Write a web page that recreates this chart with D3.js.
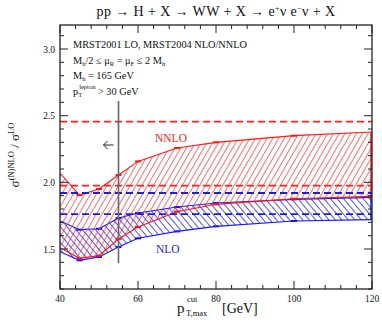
<!DOCTYPE html>
<html>
<head>
<meta charset="utf-8">
<script src="https://cdn.jsdelivr.net/npm/d3@7"></script>
<style>
  body { margin: 0; background: #fff; }
  text { font-family: "Liberation Serif", "DejaVu Serif", serif; fill: #111; }
</style>
</head>
<body>
<svg id="chart" width="382" height="327"></svg>
<script>
// cut values on the x axis (GeV)
var ptCut = [40, 45, 50, 55, 60, 70, 80, 100, 120];

// NNLO band (upper / lower edge of scale variation)
var nnloUp = [2.07, 1.905, 1.95, 2.055, 2.157, 2.257, 2.30, 2.35, 2.378];
var nnloLo = [1.51, 1.43, 1.45, 1.575, 1.665, 1.78, 1.835, 1.877, 1.895];

// NLO band
var nloUp = [1.71, 1.645, 1.652, 1.732, 1.77, 1.815, 1.845, 1.872, 1.887];
var nloLo = [1.48, 1.415, 1.44, 1.515, 1.58, 1.632, 1.67, 1.71, 1.72];

// dashed reference lines (no cut)
var nnloDash = [2.455, 1.975];
var nloDash = [1.92, 1.762];

var cutMark = 55;

var xTicks = [40, 60, 80, 100, 120];
var yTicks = [1.5, 2.0, 2.5, 3.0];

var svg = d3.select("#chart");

// plot area
var pLeft = 60, pRight = 372, pTop = 25, pBottom = 289;

var x = d3.scaleLinear().domain([40, 120]).range([pLeft, pRight]);
var y = d3.scaleLinear().domain([1.2, 3.18]).range([pBottom, pTop]);

// hatch patterns
var defs = svg.append("defs");
defs.append("pattern")
    .attr("id", "hatchRed")
    .attr("patternUnits", "userSpaceOnUse")
    .attr("width", 5).attr("height", 5)
    .attr("patternTransform", "rotate(30)")
    .append("line")
    .attr("x1", 0).attr("y1", 0).attr("x2", 0).attr("y2", 5)
    .attr("stroke", "#ff2020").attr("stroke-width", 1.3);
defs.append("pattern")
    .attr("id", "hatchBlue")
    .attr("patternUnits", "userSpaceOnUse")
    .attr("width", 5).attr("height", 5)
    .attr("patternTransform", "rotate(-40)")
    .append("line")
    .attr("x1", 0).attr("y1", 0).attr("x2", 0).attr("y2", 5)
    .attr("stroke", "#1a1aff").attr("stroke-width", 1.5);

var clip = defs.append("clipPath").attr("id", "plotClip");
clip.append("rect").attr("x", pLeft).attr("y", pTop)
    .attr("width", pRight - pLeft).attr("height", pBottom - pTop);

var plot = svg.append("g").attr("clip-path", "url(#plotClip)");

// build band data
function bandRows(up, lo) {
  return ptCut.map(function(p, i) { return {p: p, up: up[i], lo: lo[i]}; });
}

var area = d3.area()
    .x(function(d) { return x(d.p); })
    .y0(function(d) { return y(d.lo); })
    .y1(function(d) { return y(d.up); });

var bands = [
  {rows: bandRows(nloUp, nloLo), fill: "url(#hatchBlue)", color: "#1818ff"},
  {rows: bandRows(nnloUp, nnloLo), fill: "url(#hatchRed)", color: "#ff1818"}
];

bands.forEach(function(b) {
  plot.append("path")
      .datum(b.rows)
      .attr("d", area)
      .attr("fill", b.fill)
      .attr("stroke", "none");

  var lineUp = d3.line().x(function(d) { return x(d.p); }).y(function(d) { return y(d.up); });
  var lineLo = d3.line().x(function(d) { return x(d.p); }).y(function(d) { return y(d.lo); });
  plot.append("path").datum(b.rows).attr("d", lineUp)
      .attr("fill", "none").attr("stroke", b.color).attr("stroke-width", 1.1);
  plot.append("path").datum(b.rows).attr("d", lineLo)
      .attr("fill", "none").attr("stroke", b.color).attr("stroke-width", 1.1);

  // close band at right edge
  var last = b.rows[b.rows.length - 1];
  plot.append("line")
      .attr("x1", x(last.p) - 1).attr("x2", x(last.p) - 1)
      .attr("y1", y(last.up)).attr("y2", y(last.lo))
      .attr("stroke", b.color).attr("stroke-width", 1.5);

  // small error bar caps at each point
  b.rows.slice(1, -1).forEach(function(d) {
    [d.up, d.lo].forEach(function(v) {
      plot.append("line")
          .attr("x1", x(d.p) - 3).attr("x2", x(d.p) + 3)
          .attr("y1", y(v)).attr("y2", y(v))
          .attr("stroke", b.color).attr("stroke-width", 2);
    });
  });
});

// dashed lines
nnloDash.forEach(function(v) {
  plot.append("line")
      .attr("x1", pLeft).attr("x2", pRight)
      .attr("y1", y(v)).attr("y2", y(v))
      .attr("stroke", "#ff2020").attr("stroke-width", 1.8)
      .attr("stroke-dasharray", "7,4");
});
nloDash.forEach(function(v) {
  plot.append("line")
      .attr("x1", pLeft).attr("x2", pRight)
      .attr("y1", y(v)).attr("y2", y(v))
      .attr("stroke", "#1a1aee").attr("stroke-width", 1.8)
      .attr("stroke-dasharray", "7,4");
});

// vertical cut line with arrow
var cx = x(cutMark);
svg.append("line")
    .attr("x1", cx).attr("x2", cx)
    .attr("y1", y(2.61)).attr("y2", y(1.395))
    .attr("stroke", "#666").attr("stroke-width", 1.6);
var ay = y(2.28);
var arrow = svg.append("g").attr("stroke", "#222").attr("stroke-width", 1).attr("fill", "none");
arrow.append("line").attr("x1", cx - 15).attr("x2", cx - 5).attr("y1", ay).attr("y2", ay);
arrow.append("path").attr("d", "M" + (cx - 11) + "," + (ay - 4) + " L" + (cx - 15) + "," + ay + " L" + (cx - 11) + "," + (ay + 4));

// axes: ticks inside on all sides
var xMinor = d3.range(40, 121, 4);
var yMinor = d3.range(12, 32, 1).map(function(v) { return v / 10; });

var axisG = svg.append("g").attr("stroke", "#222").attr("stroke-width", 1);
axisG.append("rect")
    .attr("x", pLeft).attr("y", pTop)
    .attr("width", pRight - pLeft).attr("height", pBottom - pTop)
    .attr("fill", "none").attr("stroke-width", 1.3);

xMinor.forEach(function(v) {
  var len = xTicks.indexOf(v) >= 0 ? 8 : 4;
  axisG.append("line").attr("x1", x(v)).attr("x2", x(v))
      .attr("y1", pBottom).attr("y2", pBottom - len);
  axisG.append("line").attr("x1", x(v)).attr("x2", x(v))
      .attr("y1", pTop).attr("y2", pTop + len);
});
yMinor.forEach(function(v) {
  var major = yTicks.some(function(t) { return Math.abs(t - v) < 1e-6; });
  var len = major ? 8 : 4;
  axisG.append("line").attr("x1", pLeft).attr("x2", pLeft + len)
      .attr("y1", y(v)).attr("y2", y(v));
  axisG.append("line").attr("x1", pRight).attr("x2", pRight - len)
      .attr("y1", y(v)).attr("y2", y(v));
});

// tick labels
svg.selectAll(".xl").data(xTicks).enter().append("text")
    .attr("x", function(d) { return x(d); })
    .attr("y", pBottom + 13)
    .attr("text-anchor", "middle")
    .attr("font-size", 9.5)
    .text(function(d) { return d; });
svg.selectAll(".yl").data(yTicks).enter().append("text")
    .attr("x", pLeft - 5)
    .attr("y", function(d) { return y(d) + 3.5; })
    .attr("text-anchor", "end")
    .attr("font-size", 9.5)
    .text(function(d) { return d.toFixed(1); });

// title
var title = svg.append("text")
    .attr("x", 216).attr("y", 16)
    .attr("text-anchor", "middle")
    .attr("font-size", 14)
    .attr("letter-spacing", 0.4);
title.append("tspan").text("pp \u2192 H + X \u2192 WW + X \u2192 e");
title.append("tspan").attr("dy", -5).attr("font-size", 8).text("+");
title.append("tspan").attr("dy", 5).text("\u03bd e");
title.append("tspan").attr("dy", -5).attr("font-size", 8).text("\u2212");
title.append("tspan").attr("dy", 5).text("\u03bd + X");

// info text block
var info = svg.append("g").attr("font-size", 10.3);
info.append("text").attr("x", 73).attr("y", 48)
    .text("MRST2001 LO, MRST2004 NLO/NNLO");
var t2 = info.append("text").attr("x", 73).attr("y", 64);
t2.append("tspan").text("M");
t2.append("tspan").attr("dy", 2).attr("font-size", 6.5).text("h");
t2.append("tspan").attr("dy", -2).text("/2 \u2264 \u03bc");
t2.append("tspan").attr("dy", 2).attr("font-size", 6.5).text("R");
t2.append("tspan").attr("dy", -2).text(" = \u03bc");
t2.append("tspan").attr("dy", 2).attr("font-size", 6.5).text("F");
t2.append("tspan").attr("dy", -2).text(" \u2264 2 M");
t2.append("tspan").attr("dy", 2).attr("font-size", 6.5).text("h");
var t3 = info.append("text").attr("x", 73).attr("y", 79);
t3.append("tspan").text("M");
t3.append("tspan").attr("dy", 2).attr("font-size", 6.5).text("h");
t3.append("tspan").attr("dy", -2).text(" = 165 GeV");
var t4 = info.append("text").attr("x", 73).attr("y", 95);
t4.append("tspan").text("p");
t4.append("tspan").attr("dy", 2).attr("font-size", 6.5).text("T");
t4.append("tspan").attr("dx", -3).attr("dy", -8).attr("font-size", 6.5).text("lepton");
t4.append("tspan").attr("dy", 6).text(" > 30 GeV");

// band labels
svg.append("text").attr("x", 155).attr("y", 142)
    .attr("font-size", 11.5).style("fill", "#ff2020").text("NNLO");
svg.append("text").attr("x", 156).attr("y", 253)
    .attr("font-size", 11.5).style("fill", "#2020ff").text("NLO");

// x axis label
var xlG = svg.append("g");
xlG.append("text").attr("x", 177).attr("y", 313).attr("font-size", 15).text("p");
xlG.append("text").attr("x", 186).attr("y", 316).attr("font-size", 8.5).text("T,max");
xlG.append("text").attr("x", 187).attr("y", 302).attr("font-size", 8.5).text("cut");
xlG.append("text").attr("x", 222).attr("y", 313).attr("font-size", 14).text("[GeV]");

// y axis label
var yl = svg.append("text")
    .attr("transform", "translate(19,155) rotate(-90)")
    .attr("text-anchor", "middle")
    .attr("font-size", 13);
yl.append("tspan").text("\u03c3");
yl.append("tspan").attr("dy", -5).attr("font-size", 8.5).text("(N)NLO");
yl.append("tspan").attr("dy", 5).text(" / \u03c3");
yl.append("tspan").attr("dy", -5).attr("font-size", 8.5).text("LO");
</script>
</body>
</html>
